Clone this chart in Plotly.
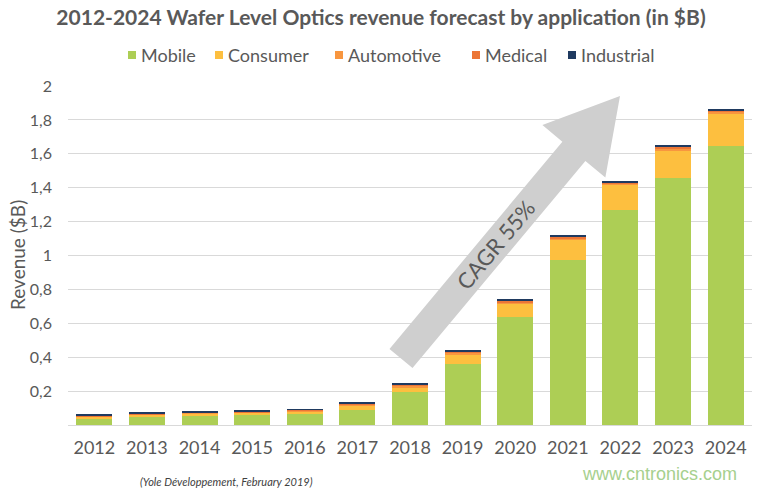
import math
import plotly.graph_objects as go

years = [2012, 2013, 2014, 2015, 2016, 2017, 2018, 2019, 2020, 2021, 2022, 2023, 2024]
mobile = [0.040, 0.050, 0.055, 0.062, 0.063, 0.088, 0.193, 0.360, 0.640, 0.973, 1.267, 1.459, 1.646]
consumer = [0.010, 0.009, 0.013, 0.011, 0.018, 0.025, 0.028, 0.055, 0.075, 0.122, 0.149, 0.163, 0.193]
automotive = [0.003, 0.003, 0.003, 0.003, 0.004, 0.006, 0.010, 0.011, 0.010, 0.008, 0.008, 0.010, 0.008]
medical = [0.003, 0.004, 0.004, 0.003, 0.004, 0.005, 0.007, 0.007, 0.008, 0.007, 0.008, 0.010, 0.008]
industrial = [0.005, 0.005, 0.005, 0.004, 0.005, 0.006, 0.007, 0.008, 0.010, 0.007, 0.008, 0.010, 0.008]

series_names = ["Mobile", "Consumer", "Automotive", "Medical", "Industrial"]
series_values = [mobile, consumer, automotive, medical, industrial]
series_colors = ["#ADCE55", "#FDBF3F", "#F8963F", "#EC7636", "#1F3A60"]

y_ticks = [0.2, 0.4, 0.6, 0.8, 1.0, 1.2, 1.4, 1.6, 1.8, 2.0]
y_ticktext = ["0,2", "0,4", "0,6", "0,8", "1", "1,2", "1,4", "1,6", "1,8", "2"]

# The page body margin is removed by a post script, so window pixels == figure pixels.
W, H = 759, 490
PL, PR, PT, PB = 68, 752, 86, 425          # plot area in window pixels
ML, MR, MT, MB = PL, W - PR, PT, H - PB
PW, PH = PR - PL, PB - PT

GRAY = "#595959"
FONT = "Lato"


def px2paper(px, py):
    return ((px - PL) / PW, (PB - py) / PH)


fig = go.Figure()
for name, vals, col in zip(series_names, series_values, series_colors):
    fig.add_trace(go.Bar(x=years, y=vals, name=name, showlegend=False,
                         marker=dict(color=col, line=dict(width=0))))

# Legend (drawn manually to match the compact original spacing)
legend_x = [128, 215, 335, 472, 568]
legend_y = 55
for name, col, lx in zip(series_names, series_colors, legend_x):
    x0, y0 = px2paper(lx, legend_y + 4)
    x1, y1 = px2paper(lx + 8, legend_y - 4)
    fig.add_shape(type="rect", xref="paper", yref="paper", x0=x0, y0=y0, x1=x1, y1=y1,
                  fillcolor=col, line=dict(width=0))
    tx, ty = px2paper(lx + 11, legend_y)
    fig.add_annotation(x=tx, y=ty, xref="paper", yref="paper", xanchor="left", yanchor="middle",
                       text=name, showarrow=False, font=dict(family=FONT, size=18, color=GRAY))

# CAGR arrow geometry (decoration), converted to paper coords
B = (401.0, 358.5)
T = (620.0, 96.0)
dx, dy = T[0] - B[0], T[1] - B[1]
L = math.hypot(dx, dy)
u = (dx / L, dy / L)
n = (-u[1], u[0])
if n[0] < 0:
    n = (-n[0], -n[1])
hw = 15.0
headw = 41.0
headl = 72.0


def P(a, b):
    return px2paper(B[0] + a * u[0] + b * n[0], B[1] + a * u[1] + b * n[1])


pts = [P(0, -hw), P(L - headl, -hw), P(L - headl, -headw), P(L, 0),
       P(L - headl, headw), P(L - headl, hw), P(0, hw)]
path = "M " + " L ".join(f"{x:.5f},{y:.5f}" for x, y in pts) + " Z"
fig.add_shape(type="path", path=path, xref="paper", yref="paper",
              fillcolor="#CFCFCF", line=dict(width=0), layer="above")

cx, cy = P(148, 0)
ang = math.degrees(math.atan2(-dy, dx))
fig.add_annotation(x=cx, y=cy, xref="paper", yref="paper", text="CAGR 55%",
                   showarrow=False, textangle=-ang,
                   font=dict(family=FONT, size=22, color=GRAY))

# Y axis title
ytx, yty = px2paper(17, 255)
fig.add_annotation(x=ytx, y=yty, xref="paper", yref="paper", xanchor="center", yanchor="middle",
                   text="Revenue ($B)", showarrow=False, textangle=-90,
                   font=dict(family=FONT, size=19, color=GRAY))

fx, fy = px2paper(138, 481)
fig.add_annotation(x=fx, y=fy, xref="paper", yref="paper", xanchor="left", yanchor="middle",
                   text="<i>(Yole Développement, February 2019)</i>", showarrow=False,
                   font=dict(family=FONT, size=11, color="#404040"))
wx, wy = px2paper(739, 474)
fig.add_annotation(x=wx, y=wy, xref="paper", yref="paper", xanchor="right", yanchor="middle",
                   text="www.cntronics.com", showarrow=False,
                   font=dict(family="Liberation Sans", size=18, color="#A6D08E"))

fig.update_layout(
    width=W, height=H,
    margin=dict(l=ML, r=MR, t=MT, b=MB, autoexpand=False),
    barmode="stack", bargap=0.315,
    plot_bgcolor="white", paper_bgcolor="white",
    font=dict(family=FONT, color=GRAY),
    title=dict(text="<b>2012-2024 Wafer Level Optics revenue forecast by application (in $B)</b>",
               x=381 / W, xanchor="center", y=1 - 18 / H, yanchor="middle",
               font=dict(family=FONT, size=21, color=GRAY)),
    showlegend=False,
)
fig.update_xaxes(range=[2011.5, 2024.5], tickvals=years, ticktext=[str(y) for y in years],
                 showgrid=False, zeroline=False, showline=False, ticks="", automargin=False,
                 tickfont=dict(family=FONT, size=18, color=GRAY), ticklabelstandoff=10)
fig.update_yaxes(range=[0, 2], tickvals=y_ticks, ticktext=y_ticktext, automargin=False,
                 showgrid=True, gridcolor="#D9D9D9", gridwidth=1,
                 zeroline=True, zerolinecolor="#D9D9D9", zerolinewidth=1,
                 showline=False, ticks="",
                 tickfont=dict(family=FONT, size=16, color=GRAY), ticklabelstandoff=15)

fig.write_html("out.html", config={"displayModeBar": False},
               post_script="document.body.style.margin='0';")
